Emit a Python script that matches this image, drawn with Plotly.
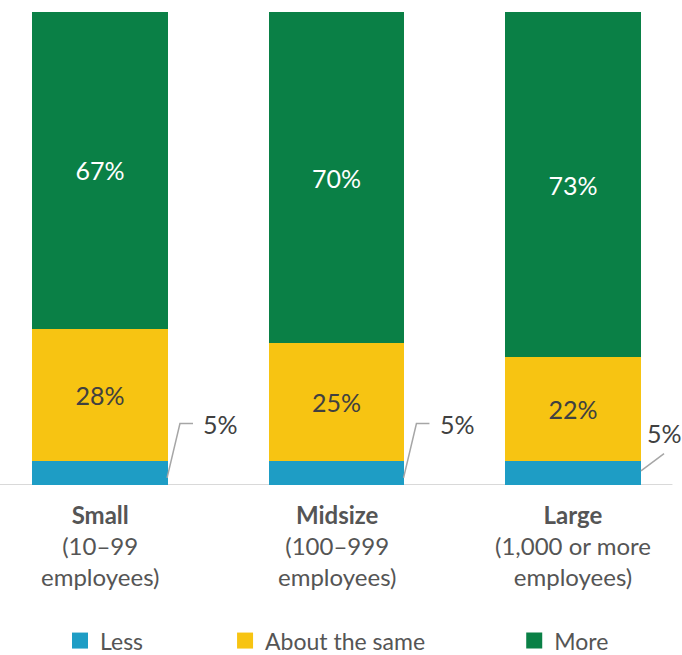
import plotly.graph_objects as go

# Share of firms by size: expected spending change
categories = ["Small", "Midsize", "Large"]
size_ranges = ["(10–99<br>employees)", "(100–999<br>employees)", "(1,000 or more<br>employees)"]
less = [5, 5, 5]
about_same = [28, 25, 22]
more = [67, 70, 73]

series_names = ["Less", "About the same", "More"]
colors = {"Less": "#1e9dc5", "About the same": "#f7c412", "More": "#0a8046"}

FONT = "Lato"
TEXT_DARK = "#404040"
LABEL_GREY = "#555555"

xs = list(range(len(categories)))
BAR_W = 0.575

fig = go.Figure()

fig.add_trace(go.Bar(
    x=xs, y=less, width=BAR_W, marker=dict(color=colors["Less"], line=dict(width=0)),
    showlegend=False, hoverinfo="skip",
))
fig.add_trace(go.Bar(
    x=xs, y=about_same, width=BAR_W, marker=dict(color=colors["About the same"], line=dict(width=0)),
    text=[f"{v}%" for v in about_same], textposition="inside", insidetextanchor="middle",
    textangle=0, textfont=dict(family=FONT, size=25, color=TEXT_DARK),
    showlegend=False, hoverinfo="skip",
))
fig.add_trace(go.Bar(
    x=xs, y=more, width=BAR_W, marker=dict(color=colors["More"], line=dict(width=0)),
    text=[f"{v}%" for v in more], textposition="inside", insidetextanchor="middle",
    textangle=0, textfont=dict(family=FONT, size=25, color="white"),
    showlegend=False, hoverinfo="skip",
))

# Legend entries, each in its own legend box so they can be spaced freely
legend_ids = ["legend", "legend2", "legend3"]
for name, lid in zip(series_names, legend_ids):
    fig.add_trace(go.Scatter(
        x=[None], y=[None], mode="markers", name=name, legend=lid,
        marker=dict(symbol="square", size=16, color=colors[name]),
        hoverinfo="skip",
    ))

# Leader lines and outside labels for the small "Less" segments
# (elbow = bent leader, straight = short diagonal leader)
leader_style = ["elbow", "elbow", "straight"]
half = BAR_W / 2
for i, (v, style) in enumerate(zip(less, leader_style)):
    x0 = i + half - 0.004
    if style == "elbow":
        y0 = v * 0.3
        xe, ye = i + 0.338, v * 2.6
        x1 = i + 0.393
        fig.add_shape(type="path",
                      path=f"M {x0},{y0} L {xe},{ye} L {x1},{ye}",
                      line=dict(color="#a6a6a6", width=1.5), layer="above")
        fig.add_annotation(x=x1 + 0.035, y=ye, text=f"{v}%", showarrow=False,
                           xanchor="left", yanchor="middle",
                           font=dict(family=FONT, size=25, color=TEXT_DARK))
    else:
        y0 = v * 0.6
        x1, y1 = i + 0.385, v * 1.33
        fig.add_shape(type="line", x0=x0 + 0.004, y0=y0, x1=x1, y1=y1,
                      line=dict(color="#a6a6a6", width=1.5), layer="above")
        fig.add_annotation(x=i + 0.305, y=v * 2.2, text=f"{v}%", showarrow=False,
                           xanchor="left", yanchor="middle",
                           font=dict(family=FONT, size=25, color=TEXT_DARK))

# Baseline
fig.add_shape(type="line", xref="paper", yref="y", x0=0, x1=0.986, y0=0, y1=0,
              line=dict(color="#d9d9d9", width=2), layer="below")

# Category labels under each bar
for i, (cat, rng) in enumerate(zip(categories, size_ranges)):
    fig.add_annotation(x=i, y=0, yshift=-13, text=f"<b>{cat}</b><br>{rng}",
                       showarrow=False, xanchor="center", yanchor="top",
                       align="center",
                       font=dict(family=FONT, size=24, color=LABEL_GREY))

legend_common = dict(orientation="h", yanchor="middle", xanchor="left", y=-0.329,
                     font=dict(family=FONT, size=23, color=LABEL_GREY),
                     bgcolor="rgba(0,0,0,0)", itemwidth=30)

fig.update_layout(
    width=682, height=655,
    margin=dict(l=0, r=0, t=12, b=170, autoexpand=False),
    barmode="stack",
    plot_bgcolor="white", paper_bgcolor="white",
    xaxis=dict(range=[-0.423, 2.461], visible=False, fixedrange=True),
    yaxis=dict(range=[0, 100], visible=False, fixedrange=True),
    legend=dict(x=0.088, **legend_common),
    legend2=dict(x=0.33, **legend_common),
    legend3=dict(x=0.754, **legend_common),
    showlegend=True,
)

fig.write_html("out.html")
